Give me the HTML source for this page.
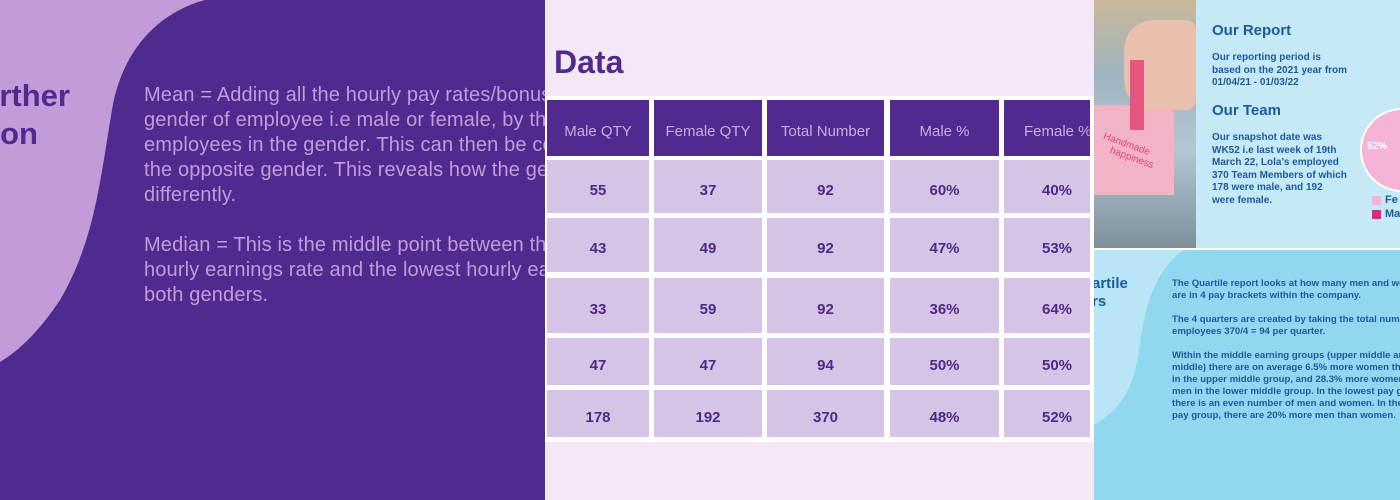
<!DOCTYPE html>
<html><head><meta charset="utf-8"><style>
*{margin:0;padding:0;box-sizing:border-box}
body{width:1400px;height:500px;overflow:hidden;position:relative;background:#fff;font-family:"Liberation Sans",sans-serif}
.abs{position:absolute}
.p1{left:0;top:0;width:545px;height:500px;background:#512a90;overflow:hidden}
.p1 .txt{left:144px;top:83px;color:#c39bd8;font-size:20px;letter-spacing:0.15px;line-height:25px;white-space:nowrap}
.p2{left:545px;top:0;width:549px;height:500px;background:#f5e8f6;overflow:hidden}
.cell{position:absolute;display:flex;align-items:center;justify-content:center;font-size:15px;white-space:nowrap;overflow:hidden;padding-top:7px}
.h{background:#512a90;color:#c7aedf}
.d{background:#d5c4e6;color:#4d2a86;font-weight:bold}
.p3{left:1094px;top:0;width:306px;height:248px;background:#c6e9f8;overflow:hidden}
.p4{left:1094px;top:250px;width:306px;height:250px;background:#8fd8ef;overflow:hidden}
.blue{color:#1d5a9a}
</style></head><body>
<div class="abs p1">
<svg class="abs" style="left:0;top:0" width="545" height="500"><path d="M0 0 L205 0 C150 15 120 60 112 110 C100 180 95 240 60 300 C40 330 20 350 0 362 Z" fill="#c39bd8"/></svg>
<div class="abs" style="left:-20px;top:78px;color:#512a90;font-size:31px;font-weight:bold;white-space:nowrap;width:90px;text-align:right">rther</div>
<div class="abs" style="left:-20px;top:116px;color:#512a90;font-size:31px;font-weight:bold;white-space:nowrap;width:58px;text-align:right">on</div>
<div class="abs txt">Mean = Adding all the hourly pay rates/bonus<br>gender of employee i.e male or female, by the<br>employees in the gender. This can then be comp<br>the opposite gender. This reveals how the gend<br>differently.<br><br>Median = This is the middle point between the<br>hourly earnings rate and the lowest hourly earn<br>both genders.</div>
</div>
<div class="abs p2">
<div class="abs" style="left:9px;top:44px;color:#512a90;font-size:32px;font-weight:bold">Data</div>
<div class="abs" style="left:0;top:96px;width:549px;height:346px;background:#fff"></div>
</div>
<div id="t"></div>
<div class="abs p3">
<div class="abs" style="left:0;top:0;width:102px;height:248px;background:linear-gradient(180deg,#c9b89a 0,#9fb3c0 30%,#b4c6d0 60%,#7e8f9a 100%)"></div>
<div class="abs" style="left:0;top:105px;width:80px;height:90px;background:#f2b3c6"></div>
<div class="abs" style="left:30px;top:20px;width:72px;height:90px;background:#e9c0ad;border-radius:30px 10px 10px 30px"></div>
<div class="abs" style="left:36px;top:60px;width:14px;height:70px;background:#e4557f"></div>
<div class="abs" style="left:6px;top:140px;color:#e0467a;font-size:10px;transform:rotate(20deg)">Handmade<br>&nbsp;&nbsp;&nbsp;&nbsp;happiness</div>
<div class="abs blue" style="left:118px;top:22px;font-size:15px;font-weight:bold">Our Report</div>
<div class="abs blue" style="left:118px;top:52px;font-size:10px;line-height:12.5px;font-weight:bold">Our reporting period is<br>based on the 2021 year from<br>01/04/21 - 01/03/22</div>
<div class="abs blue" style="left:118px;top:102px;font-size:15px;font-weight:bold">Our Team</div>
<div class="abs blue" style="left:118px;top:132px;font-size:10px;line-height:12.5px;font-weight:bold">Our snapshot date was<br>WK52 i.e last week of 19th<br>March 22, Lola's employed<br>370 Team Members of which<br>178 were male, and 192<br>were female.</div>
<div class="abs" style="left:266px;top:108px;width:84px;height:84px;border-radius:50%;background:#f6b3d8;border:2px solid #fff"></div>
<div class="abs" style="left:273px;top:141px;color:#fff;font-size:10px;font-weight:bold">52%</div>
<div class="abs" style="left:278px;top:196px;width:9px;height:9px;background:#f6b3d8"></div>
<div class="abs blue" style="left:291px;top:194px;font-size:11px;font-weight:bold">Fe</div>
<div class="abs" style="left:278px;top:210px;width:9px;height:9px;background:#e4267a"></div>
<div class="abs blue" style="left:291px;top:208px;font-size:11px;font-weight:bold">Ma</div>
</div>
<div class="abs p4">
<svg class="abs" style="left:0;top:0" width="306" height="250"><path d="M0 0 L90 0 C60 20 50 60 45 100 C40 140 25 160 0 175 Z" fill="#b9e6f6"/></svg>
<div class="abs blue" style="left:-2px;top:25px;font-size:15px;font-weight:bold;line-height:18px">artile<br>rs</div>
<div class="abs blue" style="left:78px;top:28px;font-size:9.6px;line-height:12px;font-weight:bold;white-space:nowrap">The Quartile report looks at how many men and women<br>are in 4 pay brackets within the company.<br><br>The 4 quarters are created by taking the total number<br>employees 370/4 = 94 per quarter.<br><br>Within the middle earning groups (upper middle and<br>middle) there are on average 6.5% more women than<br>in the upper middle group, and 28.3% more women than<br>men in the lower middle group. In the lowest pay group<br>there is an even number of men and women. In the top<br>pay group, there are 20% more men than women.</div>
</div>
<script>
var cols=[[547,102],[654,108],[767,117],[890,109],[1004,86]];
var rows=[[100,56,'h',['Male QTY','Female QTY','Total Number','Male %','Female %']],
[160,53,'d',['55','37','92','60%','40%']],
[218,54,'d',['43','49','92','47%','53%']],
[278,55,'d',['33','59','92','36%','64%']],
[338,47,'d',['47','47','94','50%','50%']],
[390,47,'d',['178','192','370','48%','52%']]];
var h='';rows.forEach(function(r){cols.forEach(function(c,i){
var w=c[1],x=c[0],txt=r[3][i],st='';
if(i==4){st='justify-content:flex-start;padding-left:'+(r[2]=='h'?20:38)+'px;';}
h+='<div class="cell '+r[2]+'" style="left:'+x+'px;top:'+r[0]+'px;width:'+w+'px;height:'+r[1]+'px;'+st+'">'+txt+'</div>';});});
document.getElementById('t').innerHTML=h;
</script>
</body></html>
